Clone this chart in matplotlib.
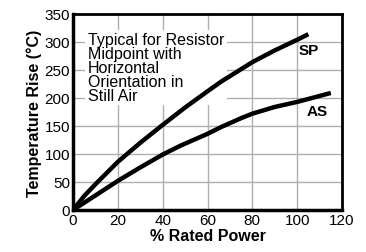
import matplotlib.pyplot as plt
import numpy as np

plt.rcParams['font.family'] = ['Liberation Sans', 'DejaVu Sans']

# curves
sp_x = [0, 5, 10, 20, 30, 40, 50, 60, 66, 80, 90, 100, 105]
sp_y = [0, 25, 46, 86, 120, 152, 183, 212, 229, 264, 285, 304, 314]
as_x = [0, 10, 20, 30, 40, 48, 60, 66, 75, 80, 90, 100, 115]
as_y = [0, 26, 52, 76, 99, 115, 136, 148, 164, 172, 184, 193, 209]

fig = plt.figure(figsize=(3.66, 2.53), dpi=100)
ax = fig.add_axes([73/366, 42/253, 269/366, 196/253])

ax.plot(sp_x, sp_y, color='black', lw=3.2, solid_capstyle='butt', solid_joinstyle='round', zorder=3)
ax.plot(as_x, as_y, color='black', lw=3.2, solid_capstyle='butt', solid_joinstyle='round', zorder=3)

ax.set_xlim(0, 120)
ax.set_ylim(0, 350)
ax.set_xticks(np.arange(0, 121, 20))
ax.set_yticks(np.arange(0, 351, 50))
ax.grid(color='#b0b0b0', lw=1)
ax.tick_params(length=0, labelsize=11, pad=2)

for s in ['top', 'right']:
    ax.spines[s].set_linewidth(2)
for s in ['left', 'bottom']:
    ax.spines[s].set_linewidth(2.5)

ax.set_xlabel('% Rated Power', fontsize=11.5, fontweight='bold', labelpad=1)
ax.set_ylabel('Temperature Rise (°C)', fontsize=11.5, fontweight='bold', labelpad=2)

ax.text(6.5, 317, 'Typical for Resistor\nMidpoint with\nHorizontal\nOrientation in\nStill Air',
        fontsize=11.5, va='top', ha='left', linespacing=0.9,
        bbox=dict(facecolor='white', edgecolor='none', pad=2), zorder=2)
ax.text(100.5, 285, 'SP', fontsize=11, fontweight='bold', va='center', zorder=4)
ax.text(104, 176, 'AS', fontsize=11, fontweight='bold', va='center', zorder=4)

plt.savefig('out.png', dpi=100)
